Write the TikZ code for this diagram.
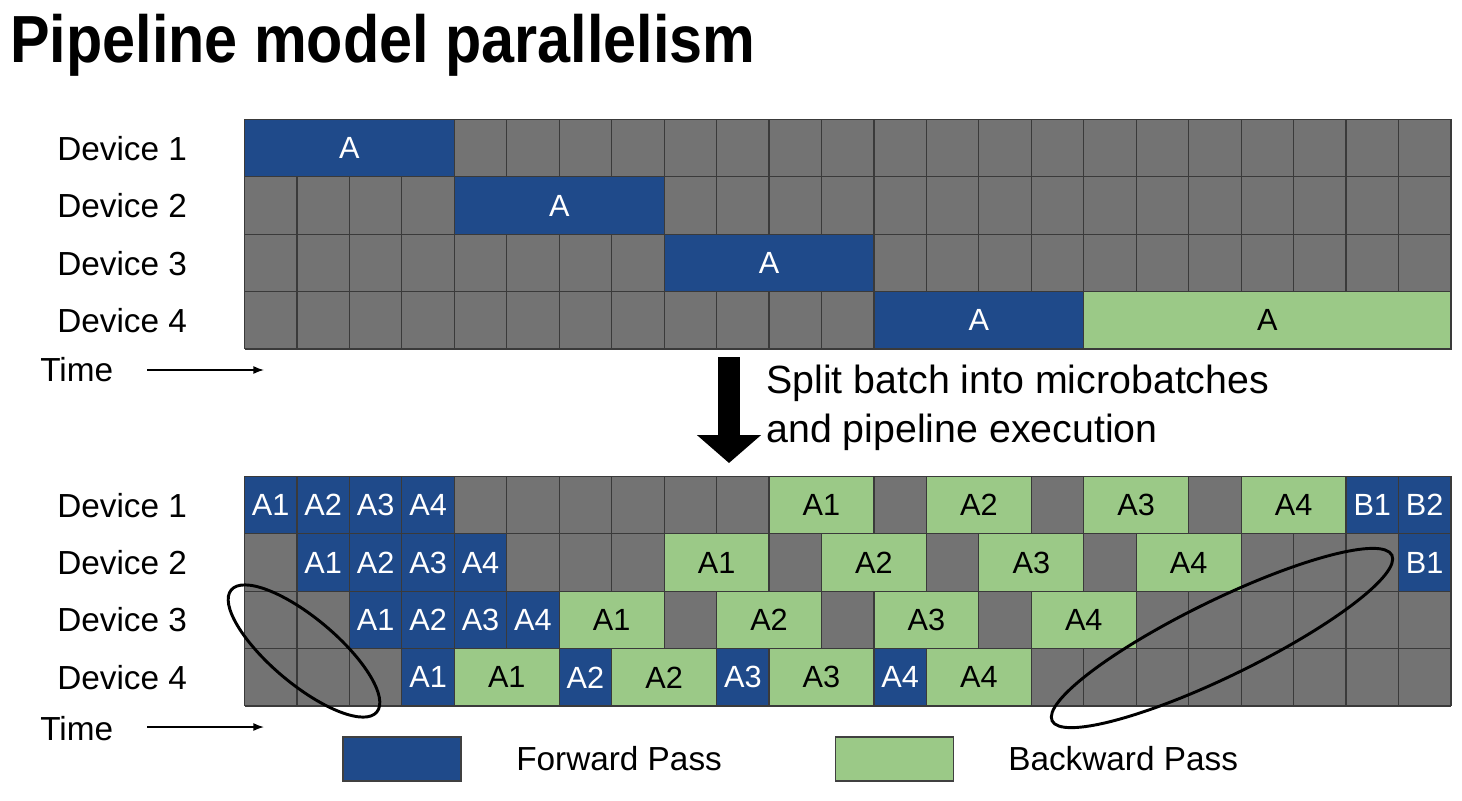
\documentclass[tikz,border=0pt]{standalone}
\usepackage{fontspec}
\setmainfont{Liberation Sans}
\usepackage{graphicx}
\usepackage{tikz}
\usetikzlibrary{arrows.meta}

\definecolor{fwdblue}{HTML}{1F4A8A}
\definecolor{bwdgreen}{HTML}{9BC987}
\definecolor{cellgray}{HTML}{737373}
\definecolor{gridline}{HTML}{3A3A3A}

\begin{document}
\begin{tikzpicture}[x=0.75pt, y=-0.75pt, >/.tip={Latex},
	blk/.style={draw=gridline, line width=0.9pt, inner sep=0pt, outer sep=0pt, anchor=south west, minimum width=39.34pt, minimum height=43.05pt, font=\fontsize{23pt}{23pt}\selectfont},
	fwd/.style={blk, fill=fwdblue, text=white},
	bwd/.style={blk, fill=bwdgreen, text=black},
	cells/.style={minimum width=#1*39.34pt},
	devlabel/.style={anchor=west, inner sep=0pt, font=\fontsize{25pt}{25pt}\selectfont},
	key/.style={draw=black!75, line width=0.8pt, minimum width=88.5pt, minimum height=33pt, inner sep=0pt},
	ring/.style={draw=black, line width=2.2pt}]
	\useasboundingbox (0,0) rectangle (1462,800);

	\node [anchor=base west, inner sep=0pt, font=\fontsize{50pt}{50pt}\selectfont\bfseries] (title) at (10,62) {\scalebox{0.89}[1]{Pipeline model parallelism}};

	% one batch, no pipelining
	\begin{scope}[shift={(244.5,349)}, x=39.34pt, y=43.05pt]
		\fill[cellgray] (0,0) rectangle (23,4);
		\draw[gridline, line width=0.9pt, xstep=39.34pt, ystep=43.05pt] (0,0) grid (23,4);
		\node [fwd, cells=4] (t1fwd) at (0,3) {A};
		\node [fwd, cells=4] (t2fwd) at (4,2) {A};
		\node [fwd, cells=4] (t3fwd) at (8,1) {A};
		\node [fwd, cells=4] (t4fwd) at (12,0) {A};
		\node [bwd, cells=7] (t4bwd) at (16,0) {A};
	\end{scope}

	\node [devlabel] (tdev1) at (57,148.6) {Device 1};
	\node [devlabel] (tdev2) at (57,205.9) {Device 2};
	\node [devlabel] (tdev3) at (57,263.1) {Device 3};
	\node [devlabel] (tdev4) at (57,320.4) {Device 4};
	\node [devlabel] (ttime) at (40,370) {Time};
	\coordinate (ttimefrom) at (147,370);
	\coordinate (ttimeto) at (264,370);
	\draw[->, line width=1.1pt] (ttimefrom) -- (ttimeto);

	% split into microbatches
	\coordinate (splitfrom) at (729,357);
	\coordinate (splitto) at (729,463);
	\draw[line width=17pt, -{Triangle[length=21pt, width=47pt]}] (splitfrom) -- (splitto);
	\node [anchor=west, align=left, inner sep=0pt, font=\fontsize{29.5pt}{36.75pt}\selectfont] (splitnote) at (766,408) {Split batch into microbatches\\and pipeline execution};

	% microbatches, pipelined
	\begin{scope}[shift={(244.5,706)}, x=39.34pt, y=43.05pt]
		\fill[cellgray] (0,0) rectangle (23,4);
		\draw[gridline, line width=0.9pt, xstep=39.34pt, ystep=43.05pt] (0,0) grid (23,4);
		\node [fwd] (d1fA1) at (0,3) {A1}; \node [fwd] (d1fA2) at (1,3) {A2}; \node [fwd] (d1fA3) at (2,3) {A3}; \node [fwd] (d1fA4) at (3,3) {A4};
		\node [bwd, cells=2] (d1bA1) at (10,3) {A1}; \node [bwd, cells=2] (d1bA2) at (13,3) {A2}; \node [bwd, cells=2] (d1bA3) at (16,3) {A3}; \node [bwd, cells=2] (d1bA4) at (19,3) {A4};
		\node [fwd] (d1fB1) at (21,3) {B1}; \node [fwd] (d1fB2) at (22,3) {B2};
		\node [fwd] (d2fA1) at (1,2) {A1}; \node [fwd] (d2fA2) at (2,2) {A2}; \node [fwd] (d2fA3) at (3,2) {A3}; \node [fwd] (d2fA4) at (4,2) {A4};
		\node [bwd, cells=2] (d2bA1) at (8,2) {A1}; \node [bwd, cells=2] (d2bA2) at (11,2) {A2}; \node [bwd, cells=2] (d2bA3) at (14,2) {A3}; \node [bwd, cells=2] (d2bA4) at (17,2) {A4};
		\node [fwd] (d2fB1) at (22,2) {B1};
		\node [fwd] (d3fA1) at (2,1) {A1}; \node [fwd] (d3fA2) at (3,1) {A2}; \node [fwd] (d3fA3) at (4,1) {A3}; \node [fwd] (d3fA4) at (5,1) {A4};
		\node [bwd, cells=2] (d3bA1) at (6,1) {A1}; \node [bwd, cells=2] (d3bA2) at (9,1) {A2}; \node [bwd, cells=2] (d3bA3) at (12,1) {A3}; \node [bwd, cells=2] (d3bA4) at (15,1) {A4};
		\node [fwd] (d4fA1) at (3,0) {A1}; \node [bwd, cells=2] (d4bA1) at (4,0) {A1};
		\node [fwd] (d4fA2) at (6,0) {A2}; \node [bwd, cells=2] (d4bA2) at (7,0) {A2};
		\node [fwd] (d4fA3) at (9,0) {A3}; \node [bwd, cells=2] (d4bA3) at (10,0) {A3};
		\node [fwd] (d4fA4) at (12,0) {A4}; \node [bwd, cells=2] (d4bA4) at (13,0) {A4};
	\end{scope}

	\node [devlabel] (bdev1) at (57,505.1) {Device 1};
	\node [devlabel] (bdev2) at (57,562.5) {Device 2};
	\node [devlabel] (bdev3) at (57,619.9) {Device 3};
	\node [devlabel] (bdev4) at (57,677.3) {Device 4};
	\node [devlabel] (btime) at (40,729) {Time};
	\coordinate (btimefrom) at (147,727);
	\coordinate (btimeto) at (264,727);
	\draw[->, line width=1.1pt] (btimefrom) -- (btimeto);

	% idle bubbles
	\draw[ring, shift={(304,651)}, rotate=-40] (0,0) ellipse [x radius=71.25pt, y radius=24.75pt];
	\draw[ring, shift={(1222,638)}, rotate=26] (0,0) ellipse [x radius=141.75pt, y radius=28.5pt];

	% legend
	\node [key, fill=fwdblue] (fwdkey) at (402,759) {};
	\node [devlabel] (fwdtext) at (516,759) {Forward Pass};
	\node [key, fill=bwdgreen] (bwdkey) at (894.5,759) {};
	\node [devlabel] (bwdtext) at (1008,759) {Backward Pass};
\end{tikzpicture}
\end{document}
